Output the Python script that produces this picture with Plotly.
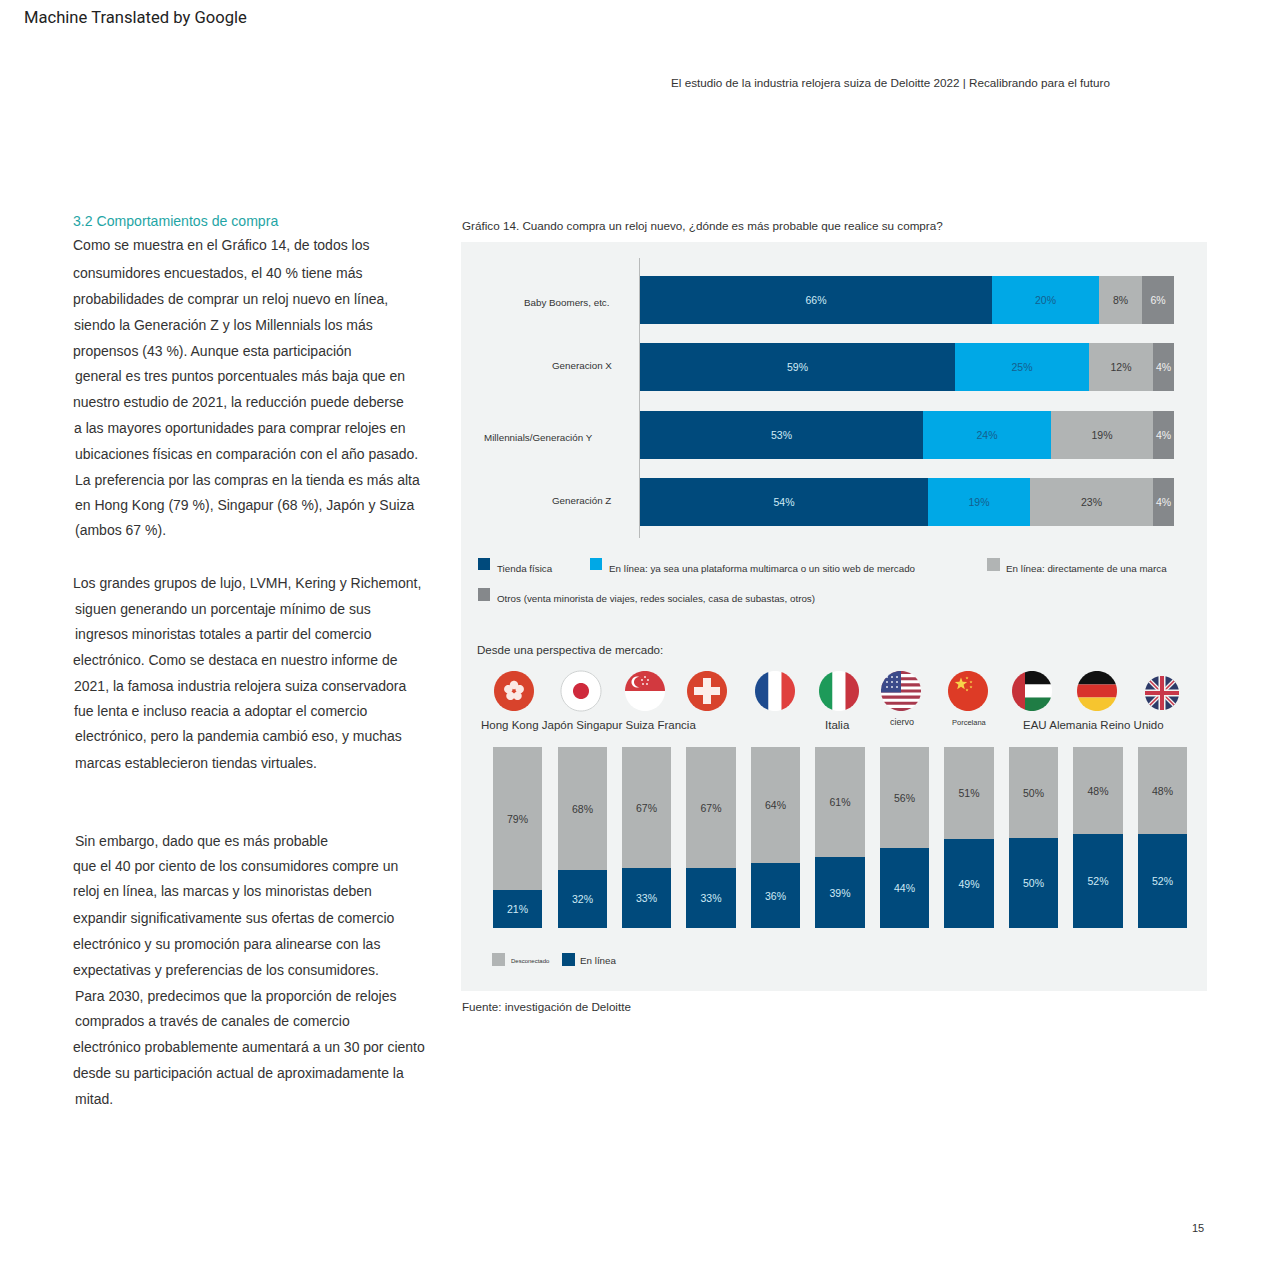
import math
import plotly.graph_objects as go

# ---------- data ----------
generations = ["Baby Boomers, etc.", "Generacion X", "Millennials/Generación Y", "Generación Z"]
tienda_fisica = [66, 59, 53, 54]
online_multimarca = [20, 25, 24, 19]
online_marca = [8, 12, 19, 23]
otros = [6, 4, 4, 4]

markets = ["Hong Kong", "Japón", "Singapur", "Suiza", "Francia", "Italia", "ciervo",
           "Porcelana", "EAU", "Alemania", "Reino Unido"]
market_online = [21, 32, 33, 33, 36, 39, 44, 49, 50, 52, 52]
market_offline = [79, 68, 67, 67, 64, 61, 56, 51, 50, 48, 48]

NAVY = "#004a7c"
BLUE = "#00a8e6"
GRAY = "#b1b4b4"
DGRAY = "#85888b"
PANEL = "#f1f3f3"
INK = "#333333"
FONT = "Liberation Sans"
W = 1280.0


def px(x):
    return x / W


def py(y):
    return 1 - y / W


fig = go.Figure()


def hbar(values, color, textcolor, name):
    fig.add_trace(go.Bar(
        y=generations, x=values, orientation="h", name=name, width=0.713,
        marker=dict(color=color, line=dict(width=0)),
        texttemplate="%{x}%", textposition="inside", insidetextanchor="middle",
        textangle=0, constraintext="none",
        textfont=dict(family=FONT, size=10.5, color=textcolor),
        xaxis="x", yaxis="y", showlegend=False, cliponaxis=False))


def vbar(values, color, textcolor, name):
    fig.add_trace(go.Bar(
        x=markets, y=values, name=name, width=0.76,
        marker=dict(color=color, line=dict(width=0)),
        texttemplate="%{y}%", textposition="inside", insidetextanchor="middle",
        textangle=0, constraintext="none",
        textfont=dict(family=FONT, size=10.5, color=textcolor),
        xaxis="x2", yaxis="y2", showlegend=False, cliponaxis=False))


hbar(tienda_fisica, NAVY, "#cfeaf6", "Tienda física")
hbar(online_multimarca, BLUE, "#14608f", "En línea: plataforma")
hbar(online_marca, GRAY, "#3a3a3a", "En línea: marca")
hbar(otros, DGRAY, "#f0f0f0", "Otros")
vbar(market_online, NAVY, "#cfeaf6", "En línea")
vbar(market_offline, GRAY, "#3a3a3a", "Desconectado")

shapes = []
annotations = []


def text(x, y, s, size=12, color=INK, anchor="left", family=FONT):
    annotations.append(dict(
        x=px(x), y=py(y), xref="paper", yref="paper", text=s, showarrow=False,
        xanchor=anchor, yanchor="middle", align=anchor, borderpad=0, borderwidth=0,
        font=dict(family=family, size=size, color=color)))


def rect(x0, y0, x1, y1, color, layer="above"):
    shapes.append(dict(type="rect", xref="paper", yref="paper", layer=layer,
                       x0=px(x0), x1=px(x1), y0=py(y0), y1=py(y1),
                       fillcolor=color, line=dict(width=0)))


def poly_path(points):
    return "M" + "L".join(f"{px(a):.5f},{py(b):.5f}" for a, b in points) + "Z"


def add_path(path, color, line=None, lw=0):
    shapes.append(dict(type="path", xref="paper", yref="paper", layer="above", path=path,
                       fillcolor=color, line=dict(width=lw, color=line or color)))


def circle_pts(cx, cy, r, n=72):
    return [(cx + r * math.cos(2 * math.pi * i / n), cy + r * math.sin(2 * math.pi * i / n))
            for i in range(n)]


def clip(points, x0, y0, x1, y1):
    def half(pts, inside, cross):
        out = []
        for i, p in enumerate(pts):
            q = pts[i - 1]
            if inside(p):
                if not inside(q):
                    out.append(cross(q, p))
                out.append(p)
            elif inside(q):
                out.append(cross(q, p))
        return out

    def at_x(v):
        return lambda a, b: (v, a[1] + (b[1] - a[1]) * (v - a[0]) / (b[0] - a[0]))

    def at_y(v):
        return lambda a, b: (a[0] + (b[0] - a[0]) * (v - a[1]) / (b[1] - a[1]), v)

    pts = half(points, lambda p: p[0] >= x0, at_x(x0))
    pts = half(pts, lambda p: p[0] <= x1, at_x(x1))
    pts = half(pts, lambda p: p[1] >= y0, at_y(y0))
    pts = half(pts, lambda p: p[1] <= y1, at_y(y1))
    return pts


def disc(cx, cy, r, color, line=None, lw=0):
    add_path(poly_path(circle_pts(cx, cy, r)), color, line, lw)


def part(cx, cy, r, x0, y0, x1, y1, color):
    add_path(poly_path(clip(circle_pts(cx, cy, r), cx + x0, cy + y0, cx + x1, cy + y1)), color)


def star(cx, cy, r, color):
    pts = []
    for i in range(10):
        rr = r if i % 2 == 0 else r * 0.42
        a = -math.pi / 2 + i * math.pi / 5
        pts.append((cx + rr * math.cos(a), cy + rr * math.sin(a)))
    add_path(poly_path(pts), color)


def seg(cx, cy, x0, y0, x1, y1, color, lw):
    shapes.append(dict(type="line", xref="paper", yref="paper", layer="above",
                       x0=px(cx + x0), x1=px(cx + x1), y0=py(cy + y0), y1=py(cy + y1),
                       line=dict(color=color, width=lw)))


# panel
rect(461, 242, 1207, 991, PANEL, layer="below")

# flags
FY = 691
R = 20
# Hong Kong
disc(514, FY, R, "#d8432c")
for k in range(5):
    a = -math.pi / 2 + k * 2 * math.pi / 5
    disc(514 + 6 * math.cos(a), FY + 6 * math.sin(a), 4.2, "#fbe9e4")
# Japan
disc(581, FY, R, "#ffffff", "#cfd2d2", 1)
disc(581, FY, 8, "#cf2a3c")
# Singapore
part(645, FY, R, -R, -R, R, 0, "#d2393f")
part(645, FY, R, -R, 0, R, R, "#ffffff")
disc(637, FY - 9, 5.5, "#ffffff")
disc(639, FY - 9, 5, "#d2393f")
for dx, dy in [(0, -14), (-3, -11), (3, -11), (-2, -7), (2, -7)]:
    disc(645 + dx, FY + dy, 0.9, "#ffffff")
# Switzerland
disc(707, FY, R, "#d8432c")
rect(703, FY - 13, 711, FY + 13, "#fbeeea")
rect(694, FY - 4, 720, FY + 4, "#fbeeea")
# France
part(775, FY, R, -R, -R, -6.5, R, "#1d4b8f")
part(775, FY, R, -6.5, -R, 6.5, R, "#ffffff")
part(775, FY, R, 6.5, -R, R, R, "#e0403e")
# Italy
part(839, FY, R, -R, -R, -6.5, R, "#1d9a59")
part(839, FY, R, -6.5, -R, 6.5, R, "#ffffff")
part(839, FY, R, 6.5, -R, R, R, "#c8343f")
# USA
disc(901, FY, R, "#ffffff")
stripe_h = 40 / 13
for k in range(0, 13, 2):
    part(901, FY, R, -R, -R + k * stripe_h, R, -R + (k + 1) * stripe_h, "#a83a4e")
part(901, FY, R, -R, -R, 0, -R + 7 * stripe_h, "#3b4a8a")
for dy in (-14, -9, -4):
    for dx in (-14, -9, -4):
        disc(901 + dx, FY + dy, 0.9, "#ffffff")
# China
disc(968, FY, R, "#dd3b26")
star(961, FY - 7, 6.5, "#f8d34a")
for dx, dy in [(-1, -13), (3, -9), (3, -4), (-1, -1)]:
    star(968 + dx, FY + dy, 1.6, "#f8d34a")
# UAE
part(1032, FY, R, -R, -R, -7, R, "#c6323a")
part(1032, FY, R, -7, -R, R, -6.5, "#111111")
part(1032, FY, R, -7, -6.5, R, 6.5, "#ffffff")
part(1032, FY, R, -7, 6.5, R, R, "#1f7d45")
# Germany
part(1097, FY, R, -R, -R, R, -6.5, "#111111")
part(1097, FY, R, -R, -6.5, R, 6.5, "#d8322c")
part(1097, FY, R, -R, 6.5, R, R, "#f6c52f")
# UK
UKR = 17
disc(1162, FY + 2, UKR, "#2d3a68")
d = UKR * 0.707
seg(1162, FY + 2, -d, -d, d, d, "#f2f2f2", 4)
seg(1162, FY + 2, -d, d, d, -d, "#f2f2f2", 4)
seg(1162, FY + 2, -d, -d, d, d, "#c8374a", 1.5)
seg(1162, FY + 2, -d, d, d, -d, "#c8374a", 1.5)
seg(1162, FY + 2, 0, -UKR, 0, UKR, "#f2f2f2", 7)
seg(1162, FY + 2, -UKR, 0, UKR, 0, "#f2f2f2", 7)
seg(1162, FY + 2, 0, -UKR, 0, UKR, "#c8374a", 4)
seg(1162, FY + 2, -UKR, 0, UKR, 0, "#c8374a", 4)

# legend keys
rect(478, 558, 490, 570, NAVY)
rect(590, 558, 602, 570, BLUE)
rect(987, 558, 1000, 571, GRAY)
rect(478, 588, 490, 601, DGRAY)
rect(492, 953, 505, 966, GRAY)
rect(562, 953, 575, 966, NAVY)

# page text
text(24, 18, "Machine Translated by Google", 16.6, "#222222", family="Roboto")
text(671, 82, "El estudio de la industria relojera suiza de Deloitte 2022 | Recalibrando para el futuro", 11.7)
text(73, 221, "3.2 Comportamientos de compra", 14.1, "#1fa5a5")
text(462, 226, "Gráfico 14. Cuando compra un reloj nuevo, ¿dónde es más probable que realice su compra?", 11.7)
text(1192, 1228, "15", 11)

body_lines = [
    (73, 245, "Como se muestra en el Gráfico 14, de todos los"),
    (73, 273, "consumidores encuestados, el 40 % tiene más"),
    (73, 299, "probabilidades de comprar un reloj nuevo en línea,"),
    (74, 325, "siendo la Generación Z y los Millennials los más"),
    (73, 351, "propensos (43 %). Aunque esta participación"),
    (75, 376, "general es tres puntos porcentuales más baja que en"),
    (73, 402, "nuestro estudio de 2021, la reducción puede deberse"),
    (74, 428, "a las mayores oportunidades para comprar relojes en"),
    (75, 454, "ubicaciones físicas en comparación con el año pasado."),
    (75, 480, "La preferencia por las compras en la tienda es más alta"),
    (75, 505, "en Hong Kong (79 %), Singapur (68 %), Japón y Suiza"),
    (75, 530, "(ambos 67 %)."),
    (73, 583, "Los grandes grupos de lujo, LVMH, Kering y Richemont,"),
    (75, 609, "siguen generando un porcentaje mínimo de sus"),
    (75, 634, "ingresos minoristas totales a partir del comercio"),
    (73, 660, "electrónico. Como se destaca en nuestro informe de"),
    (74, 686, "2021, la famosa industria relojera suiza conservadora"),
    (74, 711, "fue lenta e incluso reacia a adoptar el comercio"),
    (75, 736, "electrónico, pero la pandemia cambió eso, y muchas"),
    (75, 763, "marcas establecieron tiendas virtuales."),
    (75, 841, "Sin embargo, dado que es más probable"),
    (73, 866, "que el 40 por ciento de los consumidores compre un"),
    (73, 891, "reloj en línea, las marcas y los minoristas deben"),
    (73, 918, "expandir significativamente sus ofertas de comercio"),
    (73, 944, "electrónico y su promoción para alinearse con las"),
    (73, 970, "expectativas y preferencias de los consumidores."),
    (75, 996, "Para 2030, predecimos que la proporción de relojes"),
    (75, 1021, "comprados a través de canales de comercio"),
    (73, 1047, "electrónico probablemente aumentará a un 30 por ciento"),
    (73, 1073, "desde su participación actual de aproximadamente la"),
    (75, 1099, "mitad."),
]
for x, y, s in body_lines:
    text(x, y, s, 14.0)

# category labels
text(610, 302, generations[0], 9.8, anchor="right")
text(612, 366, generations[1], 9.8, anchor="right")
text(593, 437, generations[2], 9.8, anchor="right")
text(611, 501, generations[3], 9.8, anchor="right")

# legends
text(497, 568, "Tienda física", 9.8)
text(609, 568, "En línea: ya sea una plataforma multimarca o un sitio web de mercado", 9.8)
text(1006, 568, "En línea: directamente de una marca", 9.8)
text(497, 598, "Otros (venta minorista de viajes, redes sociales, casa de subastas, otros)", 9.8)
text(511, 961, "Desconectado", 6)
text(580, 960, "En línea", 9.8)

# market heading and labels
text(477, 649, "Desde una perspectiva de mercado:", 11.6)
text(481, 725, "Hong Kong Japón Singapur Suiza Francia", 11.5)
text(825, 725, markets[5], 11.5)
text(890, 722, markets[6], 9)
text(952, 722, markets[7], 7.5)
text(1023, 725, "EAU Alemania Reino Unido", 11.5)
text(462, 1006, "Fuente: investigación de Deloitte", 11.65)

hidden = dict(showgrid=False, zeroline=False, showticklabels=False, ticks="", fixedrange=True)
fig.update_layout(
    width=1280, height=1280, autosize=False,
    margin=dict(l=0, r=0, t=0, b=0, pad=0),
    paper_bgcolor="#ffffff", plot_bgcolor="rgba(0,0,0,0)",
    barmode="stack", bargap=0, showlegend=False,
    font=dict(family=FONT, color=INK),
    shapes=shapes, annotations=annotations,
    xaxis=dict(domain=[px(640), px(1174)], range=[0, 100], anchor="y", showline=False, **hidden),
    yaxis=dict(domain=[py(538), py(258)], range=[3.534, -0.624], anchor="x",
               type="category", categoryorder="array", categoryarray=generations,
               showline=True, linecolor="#b8baba", linewidth=1, **hidden),
    xaxis2=dict(domain=[px(493), px(1187)], range=[-0.38, 10.38], anchor="y2",
                type="category", categoryorder="array", categoryarray=markets,
                showline=False, **hidden),
    yaxis2=dict(domain=[py(928), py(747)], range=[0, 100], anchor="x2", showline=False, **hidden),
)

fig.write_html("out.html", config=dict(displayModeBar=False),
               post_script="document.body.style.margin='0';document.body.style.overflow='hidden';")
